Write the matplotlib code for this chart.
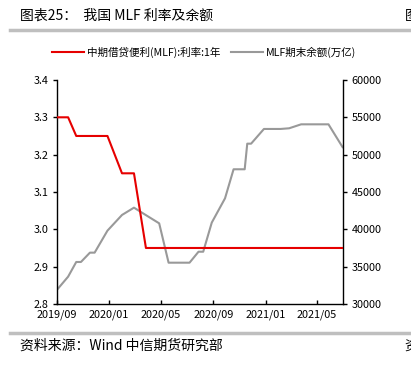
import matplotlib
matplotlib.use("Agg")
import matplotlib.pyplot as plt
from matplotlib.lines import Line2D
import pandas as pd

plt.rcParams['font.family'] = ['Noto Sans CJK SC', 'DejaVu Sans']
plt.rcParams['axes.unicode_minus'] = False

# 数据
dates = ["2019-09-01", "2019-09-27", "2019-10-16", "2019-10-27", "2019-11-17",
         "2019-11-28", "2019-12-28", "2020-01-31", "2020-02-28", "2020-03-27",
         "2020-04-27", "2020-05-19", "2020-07-07", "2020-07-28", "2020-08-08",
         "2020-08-28", "2020-09-28", "2020-10-18", "2020-11-13", "2020-11-19",
         "2020-11-28", "2020-12-28", "2021-02-05", "2021-02-25", "2021-03-25",
         "2021-05-28", "2021-06-30"]
rate = [3.30, 3.30, 3.25, 3.25, 3.25,
        3.25, 3.25, 3.15, 3.15, 2.95,
        2.95, 2.95, 2.95, 2.95, 2.95,
        2.95, 2.95, 2.95, 2.95, 2.95,
        2.95, 2.95, 2.95, 2.95, 2.95,
        2.95, 2.95]
balance = [31900, 33660, 35625, 35625, 36875,
           36875, 39820, 41920, 42900, 41900,
           40800, 35530, 35530, 37000, 37000,
           40900, 44150, 48040, 48040, 51470,
           51470, 53440, 53440, 53530, 54060,
           54060, 51000]
xticks = ["2019-09-01", "2020-01-01", "2020-05-01", "2020-09-01", "2021-01-01", "2021-05-01"]
xticklabels = ["2019/09", "2020/01", "2020/05", "2020/09", "2021/01", "2021/05"]

x = pd.to_datetime(dates)

fig = plt.figure(figsize=(4.11, 3.67), dpi=100)
ax = fig.add_axes([0.1387, 0.1717, 0.6959, 0.6104])
ax2 = ax.twinx()

red = "#e60000"
grey = "#999999"

ax.plot(x, rate, color=red, lw=1.5, zorder=3)
ax2.plot(x, balance, color=grey, lw=1.5)
ax.set_zorder(ax2.get_zorder() + 1)
ax.patch.set_visible(False)

ax.set_xlim(pd.Timestamp("2019-09-01"), pd.Timestamp("2021-07-01"))
ax.set_ylim(2.8, 3.4)
ax2.set_ylim(30000, 60000)
ax.set_yticks([2.8, 2.9, 3.0, 3.1, 3.2, 3.3, 3.4])
ax.set_yticklabels(["2.8", "2.9", "3.0", "3.1", "3.2", "3.3", "3.4"])
ax2.set_yticks(range(30000, 60001, 5000))
ax.set_xticks(pd.to_datetime(xticks))
ax.set_xticklabels(xticklabels)

for a in (ax, ax2):
    a.spines['top'].set_visible(False)
    for s in ('left', 'right', 'bottom'):
        a.spines[s].set_linewidth(1.0)
        a.spines[s].set_color('black')
ax.spines['right'].set_visible(False)
ax2.spines['left'].set_visible(False)
ax2.spines['bottom'].set_visible(False)

ax.tick_params(axis='y', direction='out', length=3, width=1, labelsize=7.8, pad=3)
ax.tick_params(axis='x', direction='in', length=3, width=1, labelsize=7.8, pad=4)
ax2.tick_params(axis='y', direction='out', length=3, width=1, labelsize=7.8, pad=3)

# 图例
handles = [Line2D([], [], color=red, lw=1.5), Line2D([], [], color=grey, lw=1.5)]
fig.legend(handles, ["中期借贷便利(MLF):利率:1年", "MLF期末余额(万亿)"],
           loc='center', bbox_to_anchor=(0.497, 0.858), ncol=2, frameon=False,
           fontsize=7.6, handlelength=3.0, handletextpad=0.3, columnspacing=1.0)

# 标题与来源
fig.text(0.049, 0.958, "图表25：  我国 MLF 利率及余额", fontsize=10, va='center', ha='left')
fig.text(0.985, 0.958, "图表26", fontsize=10, va='center', ha='left')
fig.add_artist(Line2D([0.024, 1.0], [0.918, 0.918], color='#bfbfbf', lw=2.5,
                      transform=fig.transFigure))
fig.add_artist(Line2D([0.024, 1.0], [0.093, 0.093], color='#bfbfbf', lw=2.5,
                      transform=fig.transFigure))
fig.text(0.049, 0.057, "资料来源：Wind 中信期货研究部", fontsize=10, va='center', ha='left')
fig.text(0.985, 0.057, "资料来源", fontsize=10, va='center', ha='left')

fig.savefig("out.png", dpi=100)
